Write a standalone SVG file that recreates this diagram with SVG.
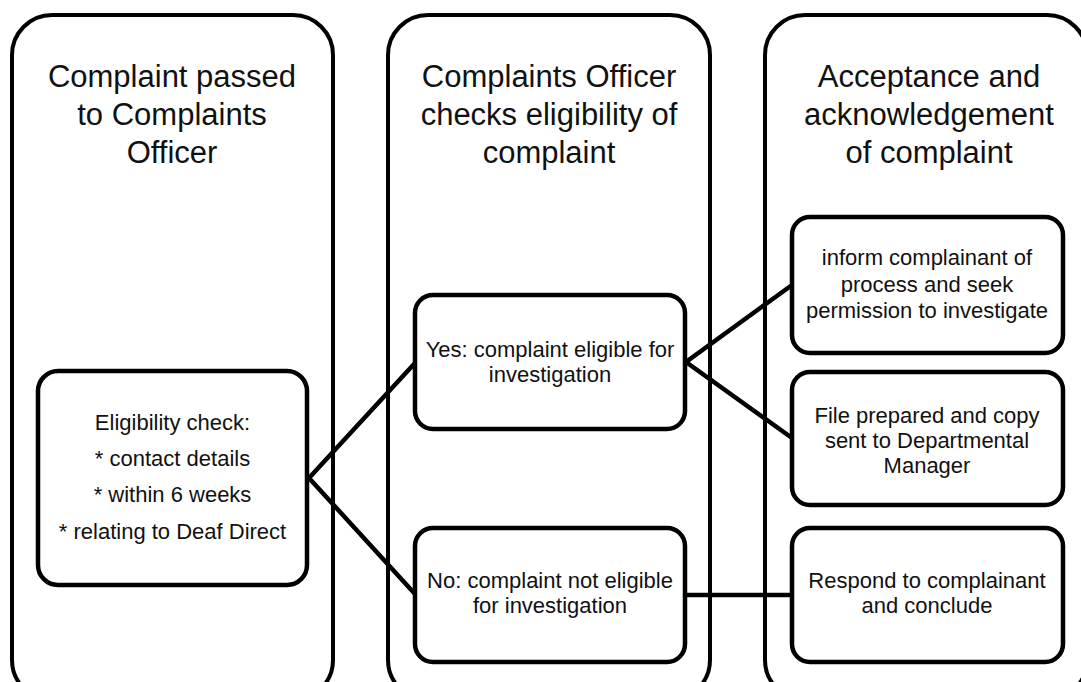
<svg xmlns="http://www.w3.org/2000/svg" width="1081" height="682" viewBox="0 0 1081 682">
<style>
.col{fill:#fff;stroke:#000;stroke-width:4}
.box{fill:#fff;stroke:#000;stroke-width:4.5}
.con{stroke:#000;stroke-width:4.5;fill:none}
.h{font-family:"Liberation Sans",Arial,sans-serif;font-size:31px;fill:#111;text-anchor:middle}
.t{font-family:"Liberation Sans",Arial,sans-serif;font-size:22px;fill:#111;text-anchor:middle}
</style>
<rect width="1081" height="682" fill="#fff"/>
<g id="col1"><rect class="col" x="12" y="15" width="321" height="685" rx="40"/>
<text class="h" x="172" y="87">Complaint passed</text><text class="h" x="172" y="125">to Complaints</text><text class="h" x="172" y="163">Officer</text></g>
<g id="col2"><rect class="col" x="388" y="15" width="322" height="685" rx="40"/>
<text class="h" x="549" y="87">Complaints Officer</text><text class="h" x="549" y="125">checks eligibility of</text><text class="h" x="549" y="163">complaint</text></g>
<g id="col3"><rect class="col" x="765" y="15" width="322" height="685" rx="40"/>
<text class="h" x="929" y="87">Acceptance and</text><text class="h" x="929" y="125">acknowledgement</text><text class="h" x="929" y="163">of complaint</text></g>
<g id="connectors">
<polyline class="con" points="415,363 309,478 415,594"/>
<polyline class="con" points="792,285 686,362 792,438"/>
<line class="con" x1="686" y1="595" x2="792" y2="595"/>
</g>
<g id="elig"><rect class="box" x="38" y="371" width="269" height="214" rx="20"/>
<text class="t" x="172.5" y="430">Eligibility check:</text><text class="t" x="172.5" y="466">* contact details</text><text class="t" x="172.5" y="502">* within 6 weeks</text><text class="t" x="172.5" y="539">* relating to Deaf Direct</text></g>
<g id="yes"><rect class="box" x="415" y="295" width="270" height="134" rx="18"/>
<text class="t" x="550" y="357">Yes: complaint eligible for</text><text class="t" x="550" y="382">investigation</text></g>
<g id="no"><rect class="box" x="415" y="528" width="270" height="134" rx="18"/>
<text class="t" x="550" y="588">No: complaint not eligible</text><text class="t" x="550" y="613">for investigation</text></g>
<g id="inform"><rect class="box" x="792" y="217" width="271" height="136" rx="18"/>
<text class="t" x="927" y="265">inform complainant of</text><text class="t" x="927" y="292">process and seek</text><text class="t" x="927" y="318">permission to investigate</text></g>
<g id="file"><rect class="box" x="792" y="372" width="271" height="133" rx="18"/>
<text class="t" x="927" y="423">File prepared and copy</text><text class="t" x="927" y="448">sent to Departmental</text><text class="t" x="927" y="473">Manager</text></g>
<g id="respond"><rect class="box" x="792" y="528" width="271" height="134" rx="18"/>
<text class="t" x="927" y="588">Respond to complainant</text><text class="t" x="927" y="613">and conclude</text></g>
</svg>
